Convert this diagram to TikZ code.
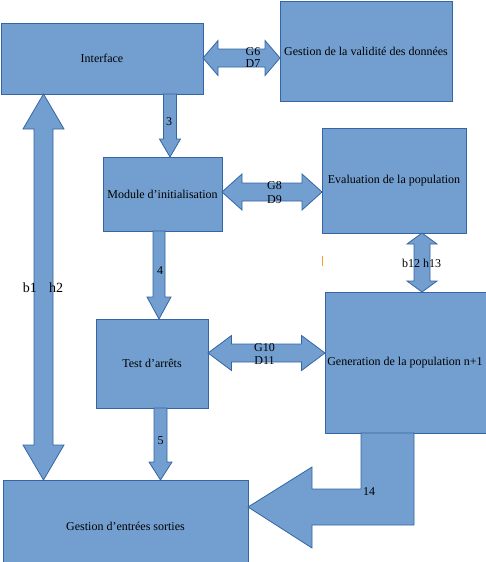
\documentclass[tikz,border=0pt]{standalone}
\usepackage{fontspec}
\setmainfont{Liberation Serif}
\usetikzlibrary{calc}

\definecolor{blockfill}{HTML}{729FCF}
\definecolor{blockline}{HTML}{3465A4}
\definecolor{cursormark}{HTML}{F0A030}

% horizontal double block arrow: left tip, right tip, shaft half, head half, head length
\newcommand\hdoublearrow[5]{%
  \draw[blockarrow] let \p1=#1, \p2=#2 in
    (\x1,\y1) -- (\x1+#5,\y1+#4) -- (\x1+#5,\y1+#3) -- (\x2-#5,\y1+#3)
    -- (\x2-#5,\y1+#4) -- (\x2,\y1) -- (\x2-#5,\y1-#4) -- (\x2-#5,\y1-#3)
    -- (\x1+#5,\y1-#3) -- (\x1+#5,\y1-#4) -- cycle;}
% vertical double block arrow: upper tip, lower tip, shaft half, head half, head length
\newcommand\vdoublearrow[5]{%
  \draw[blockarrow] let \p1=#1, \p2=#2 in
    (\x1,\y1) -- (\x1+#4,\y1-#5) -- (\x1+#3,\y1-#5) -- (\x1+#3,\y2+#5)
    -- (\x1+#4,\y2+#5) -- (\x1,\y2) -- (\x1-#4,\y2+#5) -- (\x1-#3,\y2+#5)
    -- (\x1-#3,\y1-#5) -- (\x1-#4,\y1-#5) -- cycle;}
% downward single block arrow: start of shaft, tip, shaft half, head half, head length
\newcommand\downarrowblock[5]{%
  \draw[blockarrow] let \p1=#1, \p2=#2 in
    (\x1-#3,\y1) -- (\x1+#3,\y1) -- (\x1+#3,\y2+#5) -- (\x1+#4,\y2+#5)
    -- (\x1,\y2) -- (\x1-#4,\y2+#5) -- (\x1-#3,\y2+#5) -- cycle;}

\tikzset{
  block/.style={draw=blockline, fill=blockfill, line width=0.8pt,
    inner sep=0pt, outer sep=0pt, font=\fontsize{12}{14}\selectfont},
  blockarrow/.style={draw=blockline, fill=blockfill, line width=0.8pt},
  lbl/.style={inner sep=0pt, anchor=base, font=\fontsize{12}{14}\selectfont},
  biglbl/.style={inner sep=0pt, anchor=base, font=\fontsize{14}{16}\selectfont},
}

\begin{document}
\begin{tikzpicture}[x=1pt, y=-1pt]
\useasboundingbox (0,0) rectangle (485,562);

% blocks
\node[block, minimum width=202pt, minimum height=71pt]  (iface) at (102,58.5) {Interface};
\node[block, minimum width=172pt, minimum height=100pt] (valid) at (366,51) {Gestion de la validité des données};
\node[block, minimum width=119pt, minimum height=74pt]  (init)  at (162.5,194) {Module d’initialisation};
\node[block, minimum width=144pt, minimum height=105pt] (eval)  at (394,180.5) {Evaluation de la population};
\node[block, minimum width=112pt, minimum height=89pt]  (test)  at (152,363.5) {Test d’arrêts};
\node[block, minimum width=167pt, minimum height=141pt] (gen)   at (408.5,362.5) {Generation de la population n+1\hspace*{7pt}};
\node[block, minimum width=245pt, minimum height=92pt]  (io)    at (125.5,526) {Gestion d’entrées sorties};

% block arrows between the modules
\hdoublearrow{(iface.east |- 0,58)}{(valid.west |- 0,58)}{9pt}{17.5pt}{15pt}
\downarrowblock{(170,0 |- iface.south)}{(170,0 |- init.north)}{6.5pt}{10.5pt}{18pt}
\hdoublearrow{(init.east |- 0,192)}{(eval.west |- 0,192)}{9pt}{18pt}{20pt}
\downarrowblock{(159,0 |- init.south)}{(159,0 |- test.north)}{6pt}{12pt}{22pt}
\hdoublearrow{(test.east |- 0,353)}{(gen.west |- 0,353)}{9pt}{17.5pt}{23.5pt}
\downarrowblock{(160.5,0 |- test.south)}{(160.5,0 |- io.north)}{6.5pt}{11.5pt}{18pt}
\vdoublearrow{(422,0 |- eval.south)}{(422,0 |- gen.north)}{8pt}{15pt}{11pt}
\vdoublearrow{(43.5,0 |- iface.south)}{(43.5,0 |- io.north)}{9.5pt}{20.5pt}{35pt}

% bent arrow from the generation block back to the I/O block
\coordinate (bendtop) at (361,0 |- gen.south);
\coordinate (bendtip) at (io.east |- 0,507);
\draw[blockarrow] (bendtop) -- (414,0 |- gen.south) -- (414,525) -- (312,525) -- (312,548)
  -- (bendtip) -- (312,467) -- (312,489) -- (361,489) -- cycle;

% connector labels
\node[lbl] (g6)  at (253,55.5) {G6};
\node[lbl] (d7)  at (253,67)   {D7};
\node[lbl] (n3)  at (169,125)  {3};
\node[lbl] (g8)  at (274.5,189) {G8};
\node[lbl] (d9)  at (274.5,203) {D9};
\node[lbl] (n4)  at (160,274)  {4};
\node[lbl] (g10) at (264.5,351) {G10};
\node[lbl] (d11) at (264.5,364) {D11};
\node[lbl] (n5)  at (160.5,444) {5};
\node[lbl] (n14) at (369,495)  {14};
\node[lbl] (b12) at (421.5,267) {b12 h13};
\node[biglbl] (b1) at (30,292) {b1};
\node[biglbl] (h2) at (56,292) {h2};

% small text cursor mark
\fill[cursormark] (321.5,256) rectangle (322.6,266);
\end{tikzpicture}
\end{document}
